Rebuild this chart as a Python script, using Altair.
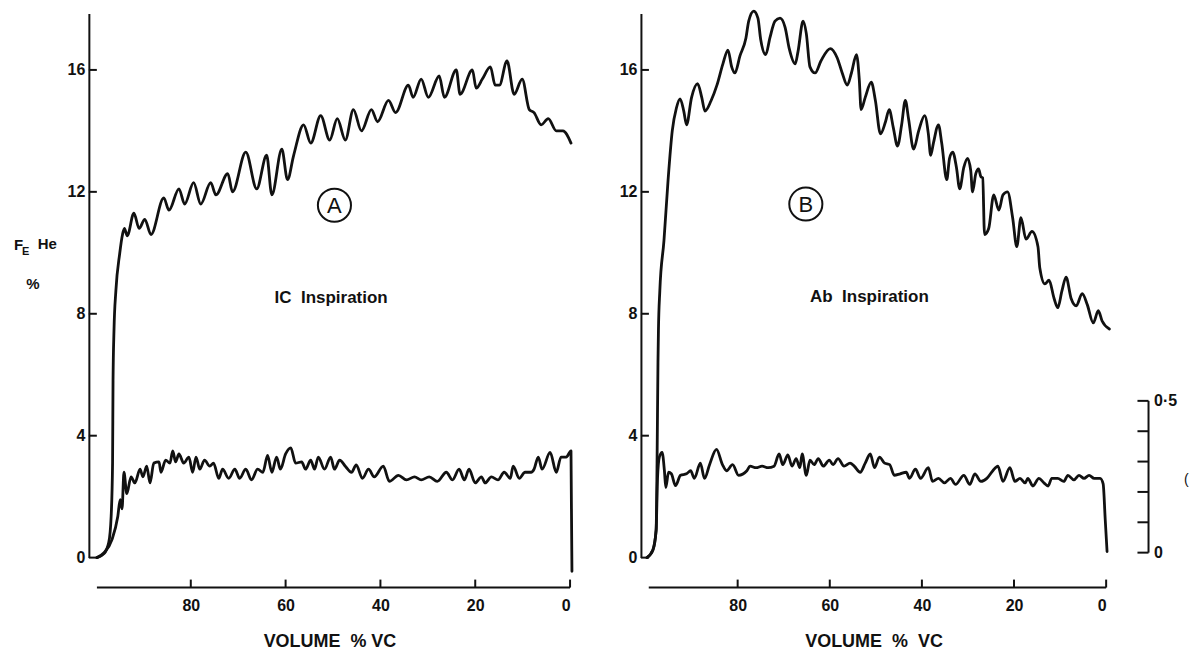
import altair as alt
import pandas as pd

FONT = "Liberation Sans"
INK = "#111111"
Y_DOMAIN = [0, 17.85]
H = 545

# ---------------- data ----------------
x_ticks = [80, 60, 40, 20, 0]
y_ticks = [0, 4, 8, 12, 16]
r_ticks = [0, 0.1, 0.2, 0.3, 0.4, 0.5]
r_labels = ["0", "", "", "", "", "0\u00b75"]

# Panel A (IC inspiration)
A_up_vol = [99.8, 98.3, 97.3, 96.8, 96.5, 96.4, 96.2, 95.8, 95.0, 94.4, 94.0, 93.4, 92.0, 90.9, 89.7, 88.4,
            85.7, 84.6, 82.5, 81.3, 79.4, 77.9, 75.8, 74.7, 72.2, 71.2, 68.4, 66.1, 64.0, 62.9, 60.8, 59.6,
            58.3, 56.2, 54.7, 52.6, 50.7, 49.1, 47.4, 45.7, 44.0, 41.9, 40.6, 38.3, 36.8, 34.1, 33.1, 31.4,
            29.9, 27.6, 26.5, 24.0, 23.2, 20.6, 19.8, 18.5, 16.8, 15.8, 14.9, 13.3, 11.8, 10.1, 8.6, 7.6,
            6.1, 4.6, 2.9, 1.5, -0.2]
A_up_val = [0, 0.13, 0.5, 1.35, 3.1, 5.8, 7.45, 8.76, 9.97, 10.6, 10.8, 10.56, 11.3, 10.8, 11.1, 10.6,
            11.8, 11.4, 12.1, 11.6, 12.3, 11.6, 12.3, 11.9, 12.6, 12.0, 13.3, 12.1, 13.2, 11.9, 13.4, 12.4,
            13.2, 14.2, 13.6, 14.5, 13.7, 14.4, 13.7, 14.7, 14.0, 14.7, 14.3, 15.0, 14.6, 15.5, 15.1, 15.7,
            15.1, 15.8, 15.1, 16.0, 15.2, 16.0, 15.4, 15.7, 16.1, 15.5, 15.5, 16.3, 15.2, 15.7, 14.7, 14.6,
            14.2, 14.4, 14.0, 14.0, 13.6]
A_lo_vol = [99.8, 98.3, 96.6, 95.4, 94.9, 94.5, 94.1, 93.5, 92.6, 91.8, 90.7, 90.1, 89.3, 88.6, 87.8, 86.7,
            86.3, 85.3, 84.4, 83.8, 83.2, 82.5, 81.5, 80.4, 79.6, 78.9, 78.1, 77.1, 76.0, 75.2, 74.1, 73.3,
            72.0, 70.7, 69.7, 68.4, 67.2, 65.9, 64.8, 63.8, 62.9, 61.9, 61.1, 60.0, 58.9, 57.9, 56.6, 55.8,
            54.7, 53.9, 53.1, 51.8, 50.5, 49.7, 48.6, 47.4, 46.1, 45.1, 43.8, 42.5, 41.3, 39.4, 38.1, 36.2,
            34.5, 32.8, 31.4, 29.7, 28.0, 26.1, 24.8, 23.4, 22.3, 21.3, 20.0, 18.7, 17.9, 16.6, 15.2, 13.9,
            12.6, 12.0, 10.7, 9.5, 8.2, 7.6, 6.7, 5.9, 4.2, 2.9, 1.9, 0.8, -0.2, -0.4]
A_lo_val = [0, 0.16, 0.6, 1.35, 1.9, 1.6, 2.8, 2.1, 2.65, 2.45, 2.9, 2.65, 3.0, 2.45, 3.1, 3.14,
            2.8, 3.2, 3.1, 3.5, 3.14, 3.4, 3.1, 3.3, 2.8, 3.3, 2.9, 3.2, 3.0, 3.1, 2.6, 2.9,
            2.6, 2.9, 2.6, 2.9, 2.55, 2.9, 2.8, 3.35, 2.8, 3.3, 2.9, 3.4, 3.6, 3.1, 3.14, 2.9,
            3.2, 2.9, 3.3, 2.9, 3.3, 2.9, 3.2, 3.0, 2.8, 3.04, 2.6, 2.9, 2.65, 3.0, 2.5, 2.7,
            2.55, 2.65, 2.55, 2.65, 2.5, 2.8, 2.55, 2.9, 2.55, 2.9, 2.45, 2.65, 2.45, 2.65, 2.55, 2.8,
            2.6, 3.0, 2.6, 2.8, 2.8, 2.9, 3.3, 2.9, 3.45, 2.8, 3.3, 3.3, 3.5, -0.45]

# Panel B (Ab inspiration)
B_up_vol = [99.7, 98.4, 97.7, 97.5, 97.3, 97.2, 96.9, 96.0, 95.1, 94.2, 93.3, 92.5, 91.7, 91.1, 90.0, 88.7,
            87.8, 87.1, 85.8, 84.5, 83.2, 82.1, 81.3, 80.6, 79.5, 78.2, 77.6, 76.5, 75.6, 75.0, 73.9, 73.0,
            71.9, 70.8, 69.7, 68.8, 67.5, 66.9, 65.8, 65.1, 64.3, 63.2, 61.9, 59.9, 58.4, 57.3, 56.2, 55.3,
            54.2, 53.6, 53.2, 52.3, 51.0, 50.1, 49.0, 47.9, 47.1, 46.2, 45.3, 44.4, 43.6, 42.9, 41.8, 40.7,
            39.4, 38.6, 38.1, 37.5, 36.4, 35.7, 34.6, 34.0, 33.3, 32.5, 31.8, 30.9, 30.1, 29.4, 29.0, 28.3,
            27.7, 27.2, 26.8, 26.4, 25.5, 24.4, 23.3, 22.4, 21.4, 20.3, 19.4, 18.5, 17.4, 16.1, 14.8, 14.4,
            13.3, 12.4, 11.3, 10.5, 9.6, 8.7, 7.6, 6.5, 5.2, 4.1, 2.8, 1.7, 0.9, -0.7]
B_up_val = [0, 0.25, 0.9, 3.1, 6.4, 7.44, 8.75, 10.4, 12.4, 14.0, 14.75, 15.05, 14.65, 14.2, 15.1, 15.55,
            15.1, 14.65, 14.98, 15.5, 16.2, 16.65, 16.1, 15.9, 16.46, 17.05, 17.6, 17.93, 17.7, 17.0, 16.5, 17.05,
            17.6, 17.7, 17.4, 16.7, 16.2, 16.6, 17.6, 17.2, 16.1, 15.9, 16.3, 16.7, 16.4, 15.9, 15.5, 15.9,
            16.5, 15.7, 14.7, 15.1, 15.6, 15.0, 13.9, 14.3, 14.7, 14.1, 13.5, 14.2, 15.0, 14.4, 13.4, 14.0,
            14.5, 13.9, 13.2, 13.6, 14.2, 13.6, 12.4, 13.1, 13.3, 12.8, 12.1, 12.8, 13.1, 12.7, 12.0, 12.6,
            12.75, 12.5, 12.46, 10.6, 10.8, 11.9, 11.4, 11.9, 12.0, 11.15, 10.2, 11.15, 10.45, 10.7, 10.2, 9.5,
            8.98, 9.1, 8.5, 8.2, 8.75, 9.2, 8.5, 8.26, 8.66, 8.3, 7.7, 8.1, 7.77, 7.5]
B_lo_vol = [99.7, 98.4, 97.7, 97.4, 97.0, 96.4, 95.9, 95.6, 95.0, 94.4, 93.5, 92.4, 91.1, 90.2, 89.4, 88.1,
            87.2, 86.1, 84.6, 83.3, 82.4, 81.1, 79.8, 78.0, 77.3, 76.0, 74.7, 73.4, 72.1, 71.0, 70.2, 69.1,
            68.2, 67.3, 66.5, 66.0, 65.1, 64.3, 63.4, 62.5, 61.4, 60.1, 59.3, 58.2, 56.9, 55.6, 54.7, 53.4,
            52.3, 51.2, 50.3, 49.2, 48.1, 47.0, 46.0, 44.7, 43.4, 42.7, 41.4, 40.3, 38.6, 37.7, 36.4, 35.1,
            33.8, 32.7, 30.9, 29.6, 28.5, 27.2, 25.9, 24.6, 23.5, 22.4, 20.9, 19.8, 18.7, 17.6, 17.0, 15.9,
            14.6, 13.5, 12.6, 11.8, 10.5, 9.2, 8.3, 7.0, 5.9, 4.8, 3.7, 2.6, 1.3, 0.65, 0.2, -0.2]
B_lo_val = [0, 0.25, 0.9, 2.6, 3.3, 3.45, 2.85, 2.3, 2.8, 2.75, 2.36, 2.7, 2.75, 2.85, 2.6, 3.1,
            2.6, 3.05, 3.55, 3.05, 2.85, 3.05, 2.7, 2.85, 3.0, 2.95, 3.0, 2.95, 3.0, 3.4, 3.05, 3.37,
            3.0, 3.25, 2.95, 3.4, 2.7, 3.2, 3.05, 3.25, 3.0, 3.2, 3.05, 3.25, 3.0, 3.1, 3.0, 2.8,
            3.1, 3.4, 2.95, 3.3, 3.1, 3.05, 2.7, 2.75, 2.8, 2.6, 2.9, 2.6, 2.95, 2.5, 2.6, 2.45,
            2.6, 2.4, 2.7, 2.4, 2.75, 2.5, 2.6, 2.85, 3.0, 2.5, 2.95, 2.5, 2.6, 2.45, 2.6, 2.35,
            2.6, 2.45, 2.35, 2.6, 2.6, 2.5, 2.7, 2.55, 2.7, 2.6, 2.7, 2.6, 2.6, 2.42, 1.25, 0.2]


def curves(up_vol, up_val, lo_vol, lo_val):
    up = pd.DataFrame({"vol": up_vol, "val": up_val, "series": "upper"})
    lo = pd.DataFrame({"vol": lo_vol, "val": lo_val, "series": "lower"})
    df = pd.concat([up, lo], ignore_index=True)
    df["i"] = range(len(df))
    return df


def main_layer(df, x_dom, px_unit, axis_start, title, circ, letter, caption, extras):
    xs = alt.Scale(domain=x_dom, nice=False, zero=False)
    ys = alt.Scale(domain=Y_DOMAIN, nice=False, zero=False)
    ypx = H / (Y_DOMAIN[1] - Y_DOMAIN[0])
    ax_x = alt.Axis(
        values=x_ticks, offset=30, domain=False, ticks=False, tickSize=0,
        labelPadding=10, labelFont=FONT, labelFontSize=16, labelFontWeight="bold", labelColor=INK,
        grid=False, title=title, titleFont=FONT, titleFontSize=18, titleFontWeight="bold",
        titleColor=INK, titlePadding=19)
    ax_y = alt.Axis(
        values=y_ticks, domainWidth=2, domainColor=INK, ticks=False, tickSize=0, labelPadding=4,
        labelFont=FONT, labelFontSize=16, labelFontWeight="bold", labelColor=INK, grid=False,
        title=None)

    def X(field=None, datum=None):
        if datum is not None:
            return alt.X(datum=datum, type="quantitative", scale=xs, axis=ax_x)
        return alt.X(field, type="quantitative", scale=xs, axis=ax_x)

    def Y(field=None, datum=None):
        if datum is not None:
            return alt.Y(datum=datum, type="quantitative", scale=ys, axis=ax_y)
        return alt.Y(field, type="quantitative", scale=ys, axis=ax_y)

    def text_layer(tdf, size, weight="bold", align="left", dy=0):
        return alt.Chart(tdf).mark_text(font=FONT, fontSize=size, fontWeight=weight, align=align,
                                        baseline="middle", color=INK, clip=False, dy=dy).encode(
            x=X("vol"), y=Y("val"), text="txt:N")

    lines = alt.Chart(df).mark_line(color=INK, strokeWidth=2.8, interpolate="monotone", clip=False,
                                    strokeJoin="round", strokeCap="round").encode(
        x=X("vol"), y=Y("val"), detail="series:N", order="i:Q")

    # inward tick marks of the y axis
    yt = alt.Chart(pd.DataFrame({"t": y_ticks})).mark_rule(color=INK, strokeWidth=2, clip=False).encode(
        y=Y("t"), x=X(datum=x_dom[0]), x2=alt.X2(datum=x_dom[0] - 8 / px_unit))
    # x axis line, 30px below the plot, starting where the traces start
    xl = alt.Chart(pd.DataFrame({"t": [axis_start, 0]})).mark_rule(color=INK, strokeWidth=2, clip=False).encode(
        x=X("max(t)"), x2=alt.X2("min(t)"), y=Y(datum=-30 / ypx))
    # inward (upward) tick marks of the x axis
    xt = alt.Chart(pd.DataFrame({"t": x_ticks})).mark_rule(color=INK, strokeWidth=2, clip=False).encode(
        x=X("t"), y=Y(datum=-30 / ypx), y2=alt.Y2(datum=-22 / ypx))
    ring = alt.Chart(pd.DataFrame({"vol": [circ[0]], "val": [circ[1]]})).mark_point(
        shape="circle", filled=False, size=1100, strokeWidth=2, color=INK, opacity=1, clip=False).encode(
        x=X("vol"), y=Y("val"))
    let = text_layer(pd.DataFrame({"vol": [circ[0]], "val": [circ[1]], "txt": [letter]}), 22,
                     weight="normal", align="center", dy=1)
    cap = text_layer(pd.DataFrame({"vol": [caption[0]], "val": [caption[1]], "txt": [caption[2]]}), 17,
                     align="center")
    ex = [text_layer(*e[:2], **e[2]) for e in extras]
    return alt.layer(lines, yt, xl, xt, ring, let, cap, *ex), X


VOL_A = [101.5, 0]
VOL_B = [101.0, 0]
PX_A = 482 / 101.5
PX_B = 466 / 101.0

ylab_big = pd.DataFrame({"vol": [117.3, 112.3], "val": [10.27, 10.29], "txt": ["F", "He"]})
ylab_sub = pd.DataFrame({"vol": [115.6], "val": [10.04], "txt": ["E"]})
ylab_pct = pd.DataFrame({"vol": [113.3], "val": [8.99], "txt": ["%"]})

panel_a, _ = main_layer(
    curves(A_up_vol, A_up_val, A_lo_vol, A_lo_val), VOL_A, PX_A, 99.8,
    "VOLUME\u00a0\u00a0%\u00a0VC", (49.7, 11.56), "A", (50.4, 8.53, "IC\u00a0\u00a0Inspiration"),
    [(ylab_big, 15, {}), (ylab_sub, 11, {}), (ylab_pct, 15, {"align": "center"})],
)
panel_a = panel_a.properties(width=482, height=H)

paren = pd.DataFrame({"vol": [-16.9], "val": [2.55], "txt": ["("]})
left_b, XB = main_layer(
    curves(B_up_vol, B_up_val, B_lo_vol, B_lo_val), VOL_B, PX_B, 99.3,
    "VOLUME\u00a0\u00a0%\u00a0\u00a0VC", (65.2, 11.6), "B", (51.4, 8.55, "Ab\u00a0\u00a0Inspiration"),
    [(paren, 14, {"weight": "normal"})],
)

# secondary scale (0 - 0.5) drawn on the right of panel B
rs = alt.Scale(domain=[-0.0164, 1.776], nice=False, zero=False)
rdf = pd.DataFrame({"r": r_ticks, "lab": r_labels})
r_line = alt.Chart(rdf).mark_rule(color=INK, strokeWidth=2, clip=False).encode(
    x=XB(datum=-9.2),
    y=alt.Y("min(r):Q", scale=rs, axis=None),
    y2=alt.Y2("max(r):Q"),
)
r_tick = alt.Chart(rdf).mark_rule(color=INK, strokeWidth=2, clip=False).encode(
    x=XB(datum=-9.2),
    x2=alt.X2(datum=-6.8),
    y=alt.Y("r:Q", scale=rs, axis=None),
)
r_lab = alt.Chart(rdf).mark_text(font=FONT, fontSize=16, fontWeight="bold", align="left",
                                 baseline="middle", color=INK, clip=False).encode(
    x=XB(datum=-10.4),
    y=alt.Y("r:Q", scale=rs, axis=None),
    text="lab:N",
)
right_b = alt.layer(r_line, r_tick, r_lab)

panel_b = alt.layer(left_b, right_b).resolve_scale(y="independent").properties(width=466, height=H)

chart = alt.hconcat(panel_a, panel_b, spacing=45).properties(
    padding={"left": 5, "top": 1, "right": 2, "bottom": 3},
    background="white",
).configure(font=FONT).configure_view(stroke=None)

chart.save("out.html", embed_options={"renderer": "svg", "actions": False})
